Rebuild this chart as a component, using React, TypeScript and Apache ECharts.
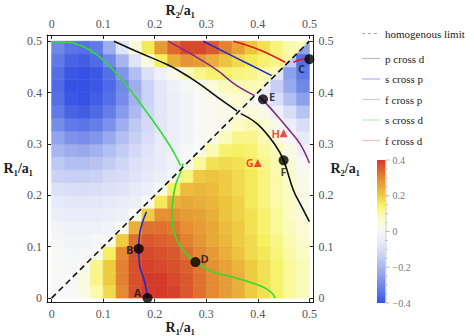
import React, { useEffect, useRef } from 'react';
import * as echarts from 'echarts';

// ---------- data ----------
const axisTicks = [0, 0.1, 0.2, 0.3, 0.4, 0.5];
const colorbarTicks = [0.4, 0.2, 0, -0.2, -0.4];
const colorbarMin = -0.4;
const colorbarMax = 0.4;
const cellSize = 0.025;

// upper triangle (y > x): row j from bottom, values for column i = 0..j (last = upper half of diagonal cell)
const upperRows = [
  [0.0],
  [0.0, 0.0],
  [0.0, -0.01, 0.0],
  [0.0, -0.01, -0.01, 0.0],
  [-0.01, -0.02, -0.02, -0.01, 0.0],
  [-0.02, -0.03, -0.03, -0.03, -0.02, 0.0],
  [-0.04, -0.05, -0.05, -0.05, -0.04, -0.03, 0.0],
  [-0.06, -0.07, -0.07, -0.07, -0.06, -0.05, -0.04, 0.0],
  [-0.09, -0.1, -0.1, -0.1, -0.09, -0.08, -0.06, -0.04, 0.0],
  [-0.13, -0.14, -0.14, -0.13, -0.11, -0.1, -0.08, -0.06, -0.04, 0.0],
  [-0.16, -0.18, -0.18, -0.17, -0.15, -0.12, -0.09, -0.07, -0.05, -0.03, 0.0],
  [-0.2, -0.22, -0.23, -0.21, -0.18, -0.15, -0.11, -0.08, -0.05, -0.03, -0.01, 0.0],
  [-0.24, -0.28, -0.29, -0.27, -0.23, -0.18, -0.14, -0.1, -0.06, -0.04, -0.02, 0.0, 0.01],
  [-0.29, -0.33, -0.34, -0.32, -0.28, -0.22, -0.16, -0.11, -0.07, -0.04, -0.02, 0.0, 0.01, 0.02],
  [-0.33, -0.37, -0.38, -0.36, -0.32, -0.26, -0.19, -0.12, -0.07, -0.04, -0.02, 0.0, 0.01, 0.02, 0.03],
  [-0.35, -0.39, -0.4, -0.38, -0.35, -0.29, -0.21, -0.13, -0.07, -0.04, -0.02, 0.0, 0.01, 0.04, 0.06, 0.06],
  [-0.36, -0.4, -0.4, -0.39, -0.36, -0.3, -0.22, -0.13, -0.07, -0.03, -0.01, 0.01, 0.05, 0.08, 0.09, 0.09, 0.08],
  [-0.35, -0.39, -0.4, -0.39, -0.35, -0.27, -0.18, -0.09, -0.03, 0.02, 0.08, 0.12, 0.14, 0.14, 0.13, 0.12, 0.1, 0.09],
  [-0.33, -0.37, -0.38, -0.36, -0.3, -0.2, -0.08, 0.04, 0.15, 0.24, 0.28, 0.27, 0.24, 0.21, 0.18, 0.16, 0.14, 0.12, 0.1],
  [-0.3, -0.34, -0.35, -0.33, -0.22, -0.08, 0.05, 0.16, 0.27, 0.34, 0.38, 0.38, 0.36, 0.31, 0.26, 0.21, 0.17, 0.13, 0.1, 0.08],
];

// lower triangle (x > y): row j from bottom, values for column i = j..19 (first = lower half of diagonal cell)
const lowerRows = [
  [0.0, 0.0, 0.03, 0.1, 0.18, 0.3, 0.37, 0.4, 0.4, 0.39, 0.36, 0.33, 0.3, 0.27, 0.24, 0.2, 0.17, 0.14, 0.11, 0.08],
  [0.0, 0.04, 0.12, 0.2, 0.31, 0.37, 0.4, 0.4, 0.38, 0.36, 0.33, 0.3, 0.27, 0.24, 0.2, 0.17, 0.14, 0.11, 0.08],
  [0.01, 0.12, 0.2, 0.31, 0.37, 0.39, 0.38, 0.37, 0.35, 0.32, 0.29, 0.26, 0.23, 0.2, 0.17, 0.14, 0.11, 0.08],
  [0.02, 0.15, 0.3, 0.37, 0.38, 0.37, 0.36, 0.33, 0.3, 0.27, 0.24, 0.21, 0.18, 0.16, 0.13, 0.1, 0.07],
  [0.03, 0.2, 0.33, 0.36, 0.35, 0.34, 0.31, 0.28, 0.25, 0.23, 0.2, 0.18, 0.15, 0.12, 0.09, 0.06],
  [0.03, 0.24, 0.33, 0.33, 0.32, 0.29, 0.27, 0.25, 0.22, 0.2, 0.17, 0.14, 0.11, 0.08, 0.05],
  [0.03, 0.2, 0.29, 0.29, 0.27, 0.26, 0.24, 0.21, 0.19, 0.17, 0.14, 0.11, 0.07, 0.04],
  [0.03, 0.16, 0.24, 0.25, 0.24, 0.23, 0.21, 0.19, 0.16, 0.13, 0.1, 0.07, 0.03],
  [0.03, 0.15, 0.22, 0.23, 0.22, 0.2, 0.18, 0.16, 0.13, 0.1, 0.07, 0.03],
  [0.03, 0.13, 0.2, 0.21, 0.2, 0.18, 0.16, 0.13, 0.1, 0.06, 0.02],
  [0.03, 0.11, 0.17, 0.18, 0.17, 0.15, 0.12, 0.09, 0.05, 0.0],
  [0.03, 0.09, 0.14, 0.15, 0.14, 0.11, 0.08, 0.03, -0.03],
  [0.03, 0.08, 0.12, 0.12, 0.09, 0.05, 0.0, -0.06],
  [0.03, 0.07, 0.09, 0.06, 0.02, -0.04, -0.1],
  [0.03, 0.05, 0.02, -0.03, -0.1, -0.17],
  [0.0, -0.03, -0.1, -0.18, -0.25],
  [-0.05, -0.14, -0.23, -0.3],
  [-0.08, -0.25, -0.33],
  [-0.15, -0.35],
  [-0.25],
];

const homogenousLimit = [[0, 0], [0.5, 0.5]];
const pCrossDUpper = [[0.121, 0.5], [0.172, 0.477], [0.223, 0.455], [0.246, 0.443], [0.284, 0.419], [0.323, 0.39], [0.36, 0.364]];
const pCrossDLower = [[0.367, 0.359], [0.4, 0.338], [0.433, 0.299], [0.45, 0.268], [0.469, 0.21], [0.485, 0.178], [0.5, 0.149]];
const sCrossPUpper = [[0.294, 0.5], [0.359, 0.467], [0.427, 0.433]];
const sCrossPLower = [[0.184, 0.168], [0.171, 0.127], [0.169, 0.096], [0.171, 0.062], [0.181, 0.03], [0.186, 0]];
const fCrossPUpper = [[0.226, 0.5], [0.286, 0.466], [0.323, 0.442], [0.357, 0.415], [0.394, 0.394]];
const fCrossPLower = [[0.403, 0.392], [0.417, 0.378], [0.44, 0.352], [0.46, 0.328], [0.482, 0.3], [0.5, 0.263]];
const sCrossDUpper = [[0, 0.499], [0.03, 0.498], [0.06, 0.49], [0.09, 0.472], [0.12, 0.443], [0.15, 0.408], [0.18, 0.368], [0.21, 0.326], [0.235, 0.287], [0.25, 0.258]];
const sCrossDLower = [[0.255, 0.262], [0.25, 0.245], [0.241, 0.222], [0.235, 0.19], [0.233, 0.165], [0.237, 0.13], [0.247, 0.105], [0.262, 0.086], [0.279, 0.07], [0.31, 0.052], [0.342, 0.043], [0.375, 0.034], [0.407, 0.023], [0.425, 0.012], [0.434, 0]];
const fCrossDUpper = [[0.353, 0.5], [0.404, 0.483], [0.453, 0.459]];
const fCrossDLower = [[0.469, 0.459], [0.482, 0.464], [0.495, 0.466]];

const pointNames = ['A', 'B', 'C', 'D', 'E', 'F'];
const pointValues = [[0.186, 0], [0.169, 0.096], [0.5, 0.465], [0.279, 0.07], [0.41, 0.387], [0.45, 0.268]];
const triangleNames = ['G', 'H'];
const triangleValues = [[0.4, 0.263], [0.45, 0.321]];

const legendNames = ['homogenous limit', 'p cross d', 's cross p', 'f cross p', 's cross d', 'f cross d'];

// ---------- styles ----------
const fieldColors = [
  '#3552e4', '#5570e6', '#7088e8', '#8da0ec', '#a8b6f0', '#c2ccf4', '#d8def7', '#eaedf9',
  '#f8f8f6',
  '#fbfbd8', '#fafaa8', '#f6f060', '#eecb40', '#e8a838', '#e38a32', '#dc602e', '#d4392a',
];
const curveColors = { p: '#111111', s: '#1c2ccc', f: '#862a8c', sd: '#2fdc2f', fd: '#e01818' };
const legendColors = ['#aaaaaa', '#bbbbbb', '#aab2ee', '#e4c0e0', '#b2f0b2', '#f6c0c0'];
const pointLabelOffsets = [[-10, -6], [-9, 1], [-8, 9], [9, -4], [9, -3], [0, 11]];
const triangleLabelOffsets = [[-8, 0], [-8, 0]];

const serif = '"Liberation Serif", "Times New Roman", serif';
const sans = '"Open Sans", "Liberation Sans", sans-serif';

const grid = { left: 47, top: 35, width: 266.5, height: 267.7 };
const colorbar = { x: 377, y: 160, width: 8.5, height: 143 };

export default function App() {
  const ref = useRef<HTMLDivElement>(null);

  useEffect(() => {
    if (!ref.current) return;
    const chart = echarts.init(ref.current, undefined, { renderer: 'svg' });

    const heatData: number[][] = [];
    upperRows.forEach((row, j) =>
      row.forEach((v, i) => {
        heatData.push([i * cellSize, j * cellSize, (i + 1) * cellSize, (j + 1) * cellSize, v, i === j ? 1 : 0]);
      })
    );
    lowerRows.forEach((row, j) =>
      row.forEach((v, k) => {
        const i = j + k;
        heatData.push([i * cellSize, j * cellSize, (i + 1) * cellSize, (j + 1) * cellSize, v, k === 0 ? 2 : 0]);
      })
    );

    const tickFmt = (v: number) => String(Math.round(v * 10) / 10);
    const nameStyle = { fontFamily: serif, fontWeight: 'bold', fontSize: 14, color: '#222' };
    const mkX = (position: 'top' | 'bottom', name: string) => ({
      type: 'value',
      position,
      min: -0.009,
      max: 0.508,
      name,
      nameLocation: 'middle',
      nameGap: 18,
      nameMoveOverlap: false,
      nameTextStyle: nameStyle,
      axisLine: { show: true, onZero: false, lineStyle: { color: '#222', width: 1 } },
      axisTick: { show: true, inside: true, length: 4, customValues: axisTicks, lineStyle: { color: '#222' } },
      axisLabel: { customValues: axisTicks, formatter: tickFmt, color: '#555', fontFamily: serif, fontSize: 12, margin: 5 },
      splitLine: { show: false },
    });
    const mkY = (position: 'left' | 'right', name: string) => ({
      type: 'value',
      position,
      min: -0.009,
      max: 0.512,
      name,
      nameLocation: 'middle',
      nameRotate: 0,
      nameGap: position === 'left' ? 14 : 17,
      nameMoveOverlap: false,
      nameTextStyle: nameStyle,
      axisLine: { show: true, onZero: false, lineStyle: { color: '#222', width: 1 } },
      axisTick: { show: true, inside: true, length: 4, customValues: axisTicks, lineStyle: { color: '#222' } },
      axisLabel: { customValues: axisTicks, formatter: tickFmt, color: '#555', fontFamily: serif, fontSize: 12, margin: 5 },
      splitLine: { show: false },
    });

    const line = (name: string, data: number[][], color: string, extra: any = {}) => ({
      type: 'line',
      name,
      data,
      symbol: 'none',
      smooth: 0.4,
      lineStyle: { color, width: 1.6, ...extra },
      itemStyle: { color },
      z: 3,
      silent: true,
    });

    const cbGradient = new echarts.graphic.LinearGradient(
      0, 0, 0, 1,
      fieldColors.slice().reverse().map((c, k) => ({ offset: k / (fieldColors.length - 1), color: c }))
    );
    const cbY = (v: number) => colorbar.y + ((colorbarMax - v) / (colorbarMax - colorbarMin)) * colorbar.height;

    const graphics: any[] = [
      { type: 'rect', shape: { ...colorbar }, style: { fill: cbGradient }, silent: true },
      {
        type: 'line',
        shape: { x1: colorbar.x + colorbar.width + 0.5, y1: colorbar.y, x2: colorbar.x + colorbar.width + 0.5, y2: colorbar.y + colorbar.height },
        style: { stroke: '#d0d0d0', lineWidth: 1 },
        silent: true,
      },
    ];
    for (let v = -0.4; v <= 0.4001; v += 0.05) {
      const major = Math.abs(Math.round(v * 100) % 20) === 0;
      graphics.push({
        type: 'line',
        shape: { x1: colorbar.x + colorbar.width, y1: cbY(v), x2: colorbar.x + colorbar.width + (major ? 4 : 2), y2: cbY(v) },
        style: { stroke: '#aaa', lineWidth: 0.8 },
        silent: true,
      });
    }
    colorbarTicks.forEach((v) => {
      graphics.push({
        type: 'text',
        x: colorbar.x + colorbar.width + 7,
        y: cbY(v),
        style: {
          text: v < 0 ? '\u2212' + String(Math.abs(v)) : String(v),
          fontFamily: serif,
          fontSize: 10,
          fill: '#777',
          verticalAlign: 'middle',
          align: 'left',
        },
        silent: true,
      });
    });

    const legendText = { fontFamily: serif, fontSize: 11, color: '#222' };
    const legendData = legendNames.map((n, k) => ({
      name: n,
      itemStyle: { opacity: 0 },
      lineStyle: k === 0
        ? { color: legendColors[k], width: 1, type: [3, 3], opacity: 1 }
        : { color: legendColors[k], width: 1.2, opacity: 1 },
    }));

    chart.setOption({
      animation: false,
      backgroundColor: '#ffffff',
      grid: { ...grid, outerBoundsMode: 'none', containLabel: false },
      xAxis: [mkX('bottom', 'R\u2081/a\u2081'), mkX('top', 'R\u2082/a\u2081')],
      yAxis: [mkY('left', 'R\u2081/a\u2081'), mkY('right', 'R\u2082/a\u2081')],
      visualMap: {
        type: 'continuous',
        show: false,
        min: colorbarMin,
        max: colorbarMax,
        dimension: 4,
        seriesIndex: 0,
        inRange: { color: fieldColors },
      },
      legend: [
        {
          orient: 'vertical', left: 361.5, top: 28, padding: 0, itemWidth: 18, itemHeight: 10, itemGap: 9.5,
          textStyle: legendText, data: legendData.slice(0, 1), selectedMode: false,
        },
        {
          orient: 'vertical', left: 361.5, top: 53, padding: 0, itemWidth: 18, itemHeight: 10, itemGap: 9.5,
          textStyle: legendText, data: legendData.slice(1), selectedMode: false,
        },
      ],
      graphic: graphics,
      series: [
        {
          type: 'custom',
          name: 'field',
          data: heatData,
          encode: { x: [0, 2], y: [1, 3] },
          silent: true,
          z: 1,
          renderItem: (params: any, api: any) => {
            const x0 = api.value(0), y0 = api.value(1), x1 = api.value(2), y1 = api.value(3);
            const kind = api.value(5);
            const p00 = api.coord([x0, y0]);
            const p10 = api.coord([x1, y0]);
            const p11 = api.coord([x1, y1]);
            const p01 = api.coord([x0, y1]);
            let pts;
            if (kind === 1) pts = [p00, p11, p01];
            else if (kind === 2) pts = [p00, p10, p11];
            else pts = [p00, p10, p11, p01];
            const color = api.visual('color');
            return {
              type: 'polygon',
              shape: { points: pts },
              style: { fill: color, stroke: color, lineWidth: 0.6 },
            };
          },
        },
        line('p cross d', pCrossDUpper, curveColors.p),
        line('p cross d', pCrossDLower, curveColors.p),
        line('s cross p', sCrossPUpper, curveColors.s),
        line('s cross p', sCrossPLower, curveColors.s),
        line('f cross p', fCrossPUpper, curveColors.f),
        line('f cross p', fCrossPLower, curveColors.f),
        line('s cross d', sCrossDUpper, curveColors.sd),
        line('s cross d', sCrossDLower, curveColors.sd),
        line('f cross d', fCrossDUpper, curveColors.fd),
        line('f cross d', fCrossDLower, curveColors.fd),
        { ...line('homogenous limit', homogenousLimit, '#111111', { type: [6, 4], width: 1.6 }), smooth: false, z: 4 },
        {
          type: 'scatter',
          name: 'points',
          symbol: 'circle',
          symbolSize: 10,
          itemStyle: { color: '#000' },
          z: 5,
          silent: true,
          data: pointValues.map((v, k) => ({
            value: v,
            label: {
              show: true,
              formatter: pointNames[k],
              position: 'inside',
              offset: pointLabelOffsets[k],
              color: '#111',
              fontFamily: sans,
              fontWeight: 'bold',
              fontSize: 11,
            },
          })),
        },
        {
          type: 'scatter',
          name: 'triangles',
          symbol: 'triangle',
          symbolSize: 8,
          itemStyle: { color: '#e8201e' },
          z: 5,
          silent: true,
          data: triangleValues.map((v, k) => ({
            value: v,
            label: {
              show: true,
              formatter: triangleNames[k],
              position: 'inside',
              offset: triangleLabelOffsets[k],
              color: '#e8201e',
              fontFamily: sans,
              fontWeight: 'bold',
              fontSize: 11,
            },
          })),
        },
      ],
    });

    return () => chart.dispose();
  }, []);

  return <div ref={ref} style={{ position: 'fixed', left: 0, top: 0, width: 474, height: 336 }} />;
}
